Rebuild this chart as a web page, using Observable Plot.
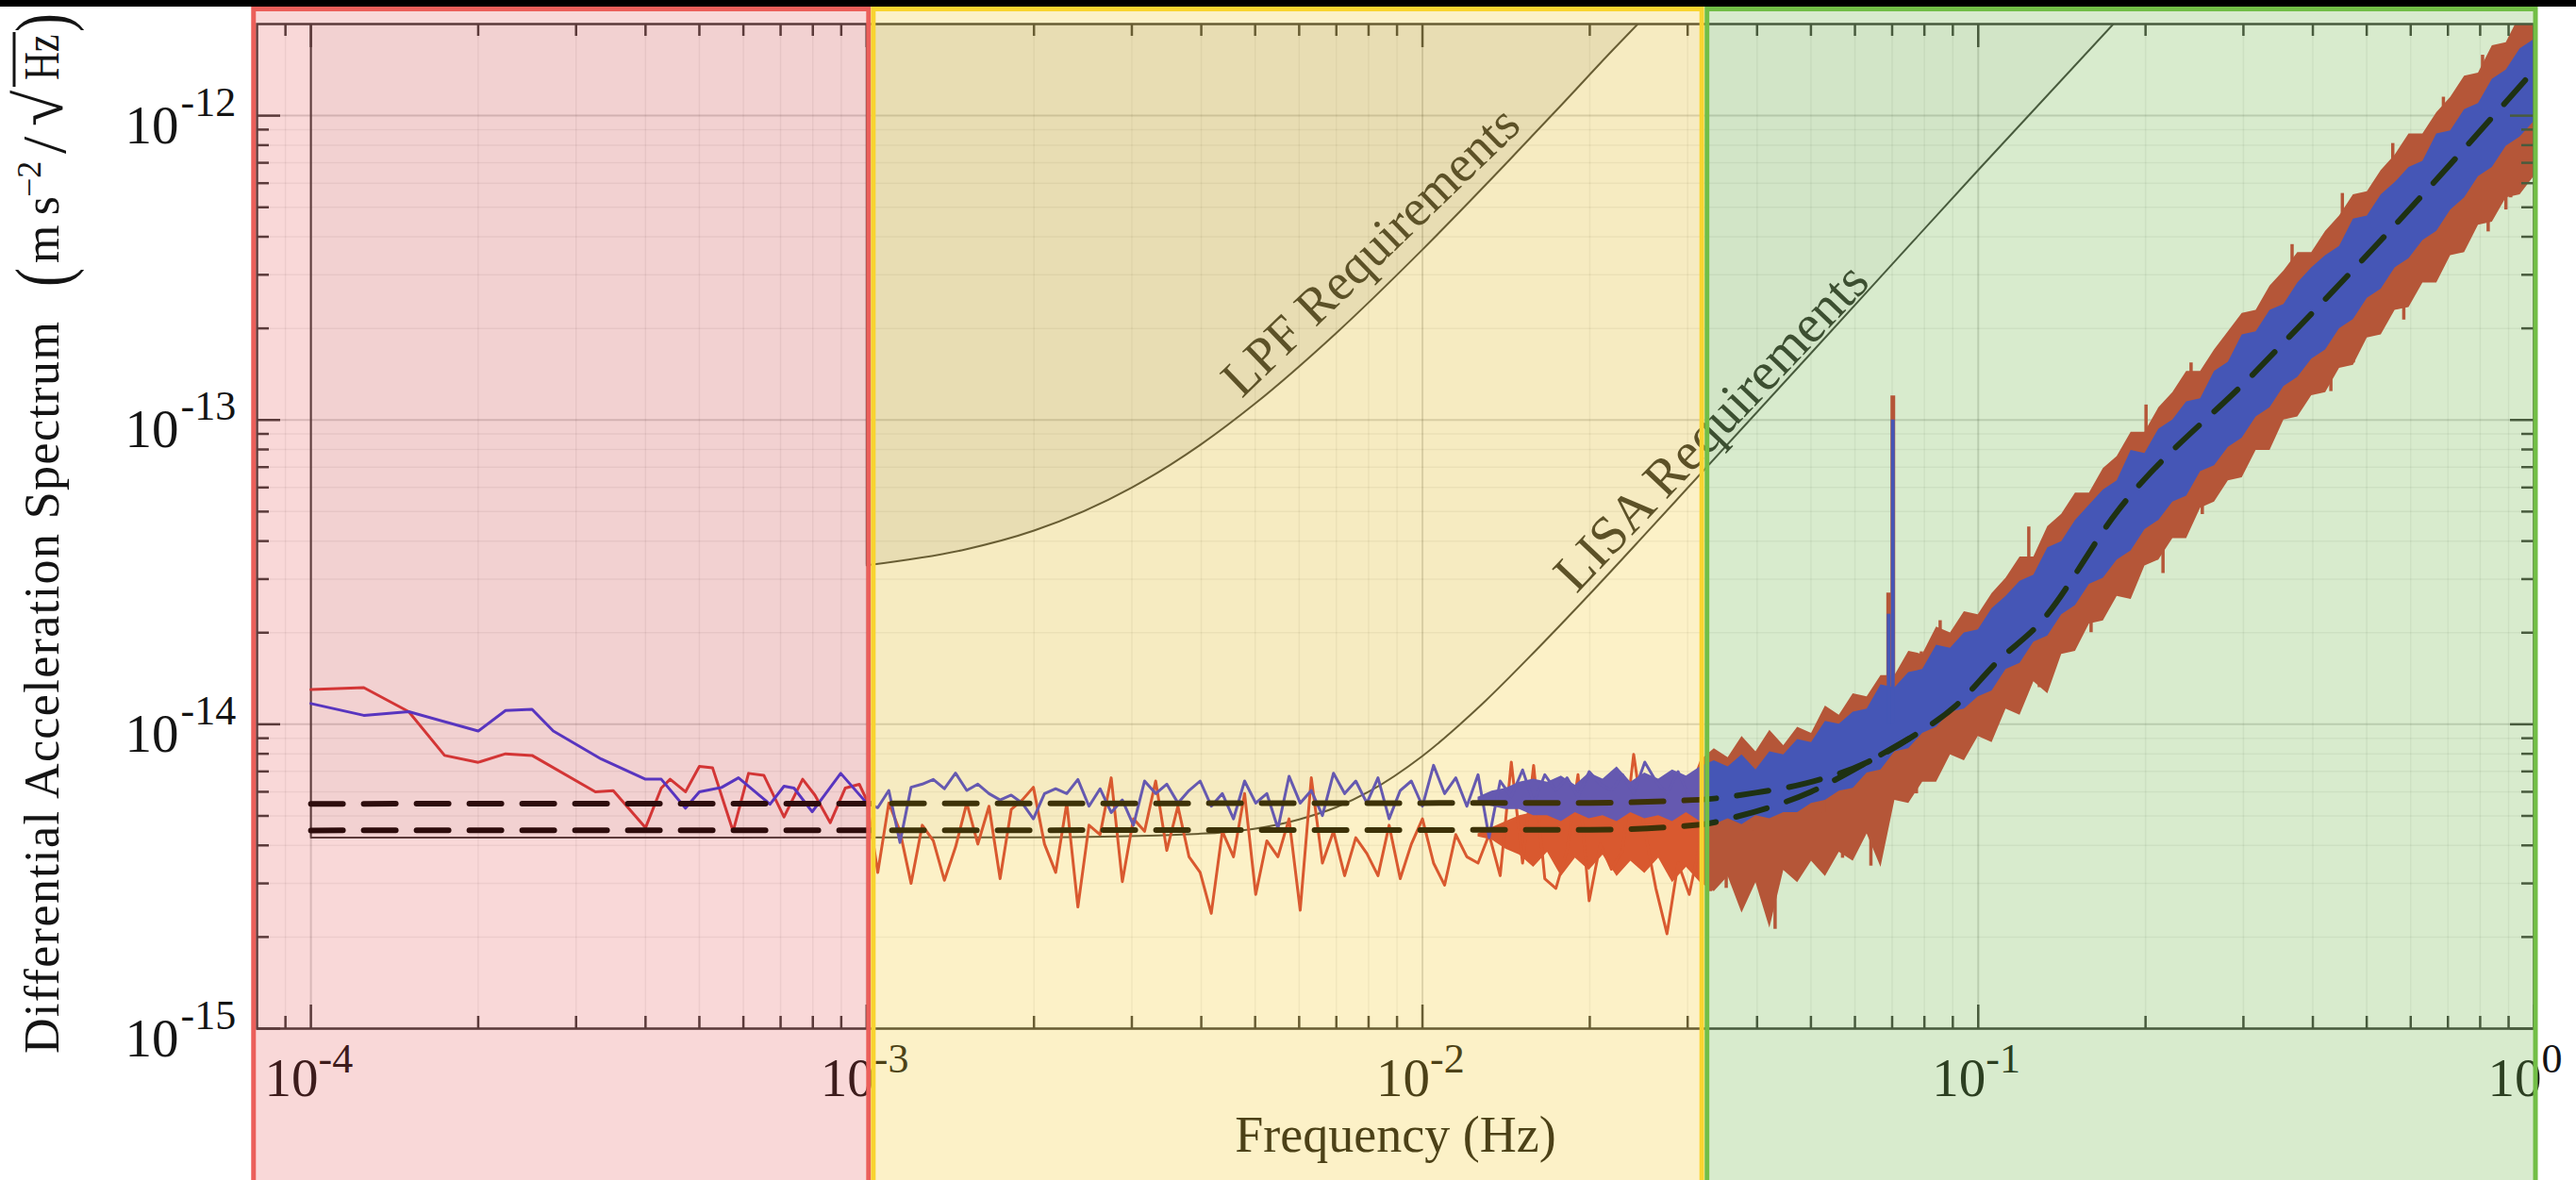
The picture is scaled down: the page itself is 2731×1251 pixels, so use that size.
<!DOCTYPE html>
<html><head><meta charset="utf-8">
<script src="https://cdn.jsdelivr.net/npm/d3@7"></script>
<script src="https://cdn.jsdelivr.net/npm/@observablehq/plot@0.6"></script>
<style>
html,body{margin:0;padding:0;background:#fff;}
#wrap{position:relative;width:2731px;height:1251px;overflow:hidden;}
#topbar{position:absolute;left:0;top:0;width:2731px;height:7px;background:#000;z-index:5;}
#wrap svg{display:block;}
</style></head>
<body><div id="wrap"><div id="topbar"></div></div>
<script>
// ---------- axes ----------
const xDomain = [8e-5, 1];
const yDomain = [1e-15, 2e-12];
const xMajor = [1e-4, 1e-3, 1e-2, 1e-1, 1];
const xMajorExp = ["-4", "-3", "-2", "-1", "0"];
const yMajor = [1e-15, 1e-14, 1e-13, 1e-12];
const yMajorExp = ["-15", "-14", "-13", "-12"];

// ---------- requirement curves ----------
const lpfF = [1e-3, 1.5e-3, 2e-3, 3e-3, 4e-3, 5e-3, 7e-3, 1e-2, 1.4e-2, 1.8e-2, 2.2e-2, 2.44e-2];
const lpfY = [3.33e-14, 3.75e-14, 4.33e-14, 6.0e-14, 8.33e-14, 1.133e-13, 1.933e-13, 3.63e-13, 6.83e-13, 1.11e-12, 1.643e-12, 2.0e-12];
const lisaF = [1e-4, 2e-3, 4e-3, 6e-3, 7e-3, 8e-3, 1e-2, 1.3e-2, 1.6e-2, 2e-2, 2.5e-2, 3e-2, 5e-2, 7e-2, 1e-1, 1.75e-1];
const lisaY = [4.24e-15, 4.25e-15, 4.37e-15, 4.87e-15, 5.34e-15, 6.0e-15, 7.87e-15, 1.197e-14, 1.75e-14, 2.68e-14, 4.16e-14, 5.98e-14, 1.657e-13, 3.25e-13, 6.63e-13, 2.0e-12];

// ---------- noise models (dashed) ----------
const modelUpF = [1e-4, 0.02, 0.0282, 0.0331, 0.0398, 0.049, 0.0631, 0.0759, 0.0912, 0.1084, 0.1288, 0.178, 0.316, 0.562, 1.0];
const modelUpY = [5.48e-15, 5.52e-15, 5.60e-15, 5.69e-15, 5.96e-15, 6.40e-15, 7.50e-15, 9.08e-15, 1.153e-14, 1.61e-14, 2.14e-14, 5.01e-14, 1.445e-13, 4.37e-13, 1.41e-12];
const modelLoF = [1e-4, 0.02, 0.0316, 0.0372, 0.05, 0.0631, 0.0759];
const modelLoY = [4.48e-15, 4.5e-15, 4.68e-15, 5.0e-15, 6.0e-15, 7.5e-15, 9.08e-15];

// ---------- measured spectra, low frequencies ----------
const redLowF = [1.0e-4, 1.245e-4, 1.5e-4, 1.74e-4, 2.0e-4, 2.24e-4, 2.5e-4, 3.25e-4, 3.5e-4, 4.0e-4, 4.27e-4, 4.43e-4, 4.72e-4, 5.0e-4, 5.28e-4, 5.75e-4, 6.13e-4, 6.53e-4, 7.1e-4, 7.67e-4, 8.07e-4, 8.6e-4, 9.15e-4, 9.7e-4];
const redLowY = [1.30e-14, 1.32e-14, 1.10e-14, 7.9e-15, 7.5e-15, 8.0e-15, 7.9e-15, 6.0e-15, 6.05e-15, 4.57e-15, 6.17e-15, 6.6e-15, 6.0e-15, 7.27e-15, 7.2e-15, 4.45e-15, 6.9e-15, 6.8e-15, 4.96e-15, 6.6e-15, 5.85e-15, 4.75e-15, 6.17e-15, 6.35e-15];
const blueLowF = [1.0e-4, 1.245e-4, 1.5e-4, 2.0e-4, 2.24e-4, 2.5e-4, 2.73e-4, 3.33e-4, 4.0e-4, 4.27e-4, 4.72e-4, 5.0e-4, 5.48e-4, 5.88e-4, 6.7e-4, 7.1e-4, 7.4e-4, 7.98e-4, 8.98e-4];
const blueLowY = [1.17e-14, 1.07e-14, 1.10e-14, 9.5e-15, 1.11e-14, 1.12e-14, 9.5e-15, 7.69e-15, 6.6e-15, 6.6e-15, 5.3e-15, 6.0e-15, 6.2e-15, 6.67e-15, 5.46e-15, 6.26e-15, 6.17e-15, 5.16e-15, 6.9e-15];

// ---------- measured spectra, 1 mHz - 30 mHz ----------
const midF = [1.000e-3, 1.047e-3, 1.096e-3, 1.148e-3, 1.202e-3, 1.259e-3, 1.318e-3, 1.380e-3, 1.445e-3, 1.514e-3,
  1.585e-3, 1.660e-3, 1.738e-3, 1.820e-3, 1.905e-3, 1.995e-3, 2.089e-3, 2.188e-3, 2.291e-3, 2.399e-3,
  2.512e-3, 2.630e-3, 2.754e-3, 2.884e-3, 3.020e-3, 3.162e-3, 3.311e-3, 3.467e-3, 3.631e-3, 3.802e-3,
  3.981e-3, 4.169e-3, 4.365e-3, 4.571e-3, 4.786e-3, 5.012e-3, 5.248e-3, 5.495e-3, 5.754e-3, 6.026e-3,
  6.310e-3, 6.607e-3, 6.918e-3, 7.244e-3, 7.586e-3, 7.943e-3, 8.318e-3, 8.710e-3, 9.120e-3, 9.550e-3,
  1.000e-2, 1.047e-2, 1.096e-2, 1.148e-2, 1.202e-2, 1.259e-2, 1.318e-2, 1.380e-2, 1.445e-2, 1.514e-2,
  1.585e-2, 1.660e-2, 1.738e-2, 1.820e-2, 1.905e-2, 1.995e-2, 2.089e-2, 2.188e-2, 2.291e-2, 2.399e-2,
  2.512e-2, 2.630e-2, 2.754e-2, 2.884e-2, 3.020e-2, 3.162e-2];
const blueMidY = [5.51e-15, 5.32e-15, 6.06e-15, 4.09e-15, 6.21e-15, 6.36e-15, 6.59e-15, 6.14e-15, 6.91e-15, 6.06e-15,
  6.36e-15, 5.92e-15, 5.64e-15, 5.85e-15, 5.51e-15, 4.89e-15, 5.92e-15, 6.14e-15, 5.92e-15, 6.59e-15,
  5.38e-15, 6.14e-15, 5.13e-15, 5.64e-15, 4.66e-15, 6.51e-15, 5.92e-15, 6.36e-15, 5.51e-15, 6.06e-15,
  6.51e-15, 5.38e-15, 5.92e-15, 4.89e-15, 6.51e-15, 5.51e-15, 5.92e-15, 4.55e-15, 6.75e-15, 5.51e-15,
  6.06e-15, 5.01e-15, 6.91e-15, 5.92e-15, 6.51e-15, 5.51e-15, 6.67e-15, 4.89e-15, 6.06e-15, 6.51e-15,
  5.38e-15, 7.33e-15, 5.92e-15, 6.67e-15, 5.38e-15, 6.83e-15, 4.24e-15, 6.51e-15, 5.78e-15, 7.08e-15,
  5.51e-15, 6.83e-15, 6.06e-15, 6.67e-15, 5.78e-15, 6.99e-15, 6.36e-15, 6.06e-15, 6.83e-15, 5.92e-15,
  7.51e-15, 6.51e-15, 5.92e-15, 6.99e-15, 5.78e-15, 6.21e-15];
const redMidY = [5.64e-15, 3.26e-15, 5.51e-15, 4.45e-15, 3.00e-15, 4.66e-15, 4.14e-15, 3.07e-15, 3.95e-15, 5.51e-15,
  4.04e-15, 5.38e-15, 3.11e-15, 5.25e-15, 5.64e-15, 6.21e-15, 4.04e-15, 3.26e-15, 5.51e-15, 2.51e-15,
  4.66e-15, 4.34e-15, 6.67e-15, 3.04e-15, 4.89e-15, 4.45e-15, 6.51e-15, 3.85e-15, 5.38e-15, 3.67e-15,
  3.26e-15, 2.39e-15, 4.45e-15, 3.67e-15, 5.92e-15, 2.76e-15, 4.14e-15, 3.67e-15, 4.89e-15, 2.45e-15,
  6.67e-15, 3.50e-15, 4.45e-15, 3.18e-15, 4.24e-15, 3.76e-15, 3.18e-15, 4.66e-15, 3.11e-15, 4.04e-15,
  4.89e-15, 3.50e-15, 2.96e-15, 4.34e-15, 3.67e-15, 3.50e-15, 4.34e-15, 3.18e-15, 7.51e-15, 3.50e-15,
  7.33e-15, 3.11e-15, 2.89e-15, 3.85e-15, 6.83e-15, 2.63e-15, 4.04e-15, 3.34e-15, 3.85e-15, 7.97e-15,
  4.45e-15, 2.89e-15, 2.05e-15, 3.50e-15, 2.76e-15, 4.14e-15];

// ---------- measured spectra envelopes, 12 mHz - 1 Hz (log10 of value) ----------
const bandF = [0.01259,0.01334,0.01413,0.01496,0.01585,0.01679,0.01778,0.01884,0.01995,0.02113,
  0.02239,0.02371,0.02512,0.02661,0.02818,0.02985,0.03162,0.03350,0.03548,0.03758,
  0.03981,0.04217,0.04467,0.04732,0.05012,0.05309,0.05623,0.05957,0.06310,0.06683,
  0.07079,0.07499,0.07943,0.08414,0.08913,0.09441,0.1000,0.1059,0.1122,0.1189,
  0.1259,0.1334,0.1413,0.1496,0.1585,0.1679,0.1778,0.1884,0.1995,0.2113,
  0.2239,0.2371,0.2512,0.2661,0.2818,0.2985,0.3162,0.3350,0.3548,0.3758,
  0.3981,0.4217,0.4467,0.4732,0.5012,0.5309,0.5623,0.5957,0.6310,0.6683,
  0.7079,0.7499,0.7943,0.8414,0.8913,0.9441,1.0];
const blueHiLog = [-14.24,-14.22,-14.21,-14.19,-14.18,-14.19,-14.17,-14.20,-14.16,-14.18,-14.14,-14.19,-14.16,-14.18,-14.15,-14.17,-14.14,
  -14.12,-14.14,-14.10,-14.15,-14.09,-14.10,-14.05,-14.06,-13.99,-14.00,-13.96,-13.95,-13.87,-13.88,-13.83,-13.82,-13.74,-13.75,-13.70,-13.69,
  -13.62,-13.58,-13.53,-13.51,-13.42,-13.40,-13.33,-13.28,-13.23,-13.20,-13.10,-13.11,-13.03,-13.00,-12.94,-12.93,-12.84,-12.81,-12.72,-12.71,
  -12.64,-12.62,-12.55,-12.50,-12.46,-12.43,-12.34,-12.33,-12.26,-12.22,-12.17,-12.15,-12.06,-12.05,-11.98,-11.96,-11.88,-11.85,-11.78,-11.75];
const blueLoLog = [-14.26,-14.27,-14.28,-14.28,-14.30,-14.30,-14.32,-14.29,-14.31,-14.30,-14.32,-14.29,-14.31,-14.30,-14.32,-14.29,-14.32,
  -14.33,-14.31,-14.33,-14.30,-14.31,-14.29,-14.29,-14.26,-14.25,-14.22,-14.21,-14.16,-14.15,-14.09,-14.08,-14.03,-14.01,-13.96,-13.95,-13.91,
  -13.89,-13.82,-13.80,-13.73,-13.71,-13.64,-13.61,-13.54,-13.52,-13.46,-13.43,-13.36,-13.33,-13.27,-13.25,-13.17,-13.15,-13.09,-13.06,-12.99,
  -12.96,-12.89,-12.86,-12.80,-12.77,-12.70,-12.67,-12.60,-12.57,-12.50,-12.47,-12.41,-12.38,-12.31,-12.27,-12.20,-12.17,-12.10,-12.07,-12.02];
const redHiLog = [-14.36,-14.34,-14.32,-14.30,-14.29,-14.28,-14.26,-14.29,-14.27,-14.30,-14.26,-14.28,-14.25,-14.29,-14.26,-14.24,-14.12,
  -14.08,-14.11,-14.04,-14.09,-14.02,-14.07,-14.01,-14.03,-13.94,-13.97,-13.90,-13.91,-13.84,-13.84,-13.76,-13.77,-13.68,-13.70,-13.63,-13.64,
  -13.57,-13.52,-13.45,-13.45,-13.35,-13.31,-13.24,-13.24,-13.16,-13.12,-13.04,-13.04,-12.96,-12.91,-12.84,-12.84,-12.77,-12.71,-12.65,-12.64,
  -12.56,-12.51,-12.45,-12.45,-12.38,-12.33,-12.26,-12.25,-12.18,-12.13,-12.06,-12.06,-11.99,-11.94,-11.87,-11.86,-11.77,-11.76,-11.67,-11.67];
const redLoLog = [-14.37,-14.38,-14.41,-14.43,-14.47,-14.42,-14.50,-14.44,-14.48,-14.43,-14.50,-14.45,-14.49,-14.44,-14.52,-14.47,-14.52,
  -14.55,-14.50,-14.62,-14.52,-14.67,-14.48,-14.52,-14.45,-14.50,-14.42,-14.45,-14.36,-14.47,-14.25,-14.26,-14.19,-14.19,-14.10,-14.12,-14.04,
  -14.06,-13.95,-13.97,-13.86,-13.90,-13.77,-13.76,-13.67,-13.66,-13.58,-13.59,-13.48,-13.46,-13.39,-13.39,-13.29,-13.27,-13.20,-13.19,-13.10,
  -13.10,-13.00,-12.99,-12.92,-12.91,-12.83,-12.82,-12.73,-12.72,-12.64,-12.63,-12.55,-12.55,-12.46,-12.45,-12.36,-12.35,-12.27,-12.26,-12.20];

// ---------- individual excursions of the red spectrum above 30 mHz ----------
const redDipF = [0.0330, 0.0352, 0.0366, 0.0396, 0.0412, 0.0431, 0.0445, 0.0460, 0.0488, 0.0527,
  0.0548, 0.0570, 0.0593, 0.0641, 0.0667, 0.0703, 0.0740, 0.0774, 0.0821, 0.0854,
  0.0900, 0.0948, 0.1094, 0.1214, 0.1288, 0.1365, 0.1476, 0.1596, 0.215, 0.253,
  0.319, 0.367, 0.431, 0.473, 0.528, 0.583, 0.628, 0.655, 0.74, 0.827, 0.89, 0.908];
const redDipY = [2.82e-15, 2.89e-15, 3.18e-15, 3.76e-15, 3.26e-15, 2.12e-15, 3.50e-15, 3.33e-15, 3.94e-15, 3.33e-15,
  4.13e-15, 3.63e-15, 4.34e-15, 3.42e-15, 5.51e-15, 6.05e-15, 6.50e-15, 5.91e-15, 6.98e-15, 7.33e-15,
  8.26e-15, 9.08e-15, 1.05e-14, 1.27e-14, 1.32e-14, 1.75e-14, 2.0e-14, 2.0e-14, 3.13e-14, 4.89e-14,
  8.4e-14, 1.12e-13, 1.24e-13, 1.54e-13, 2.06e-13, 2.13e-13, 3.13e-13, 3.2e-13, 3.55e-13, 4.15e-13, 4.9e-13, 5.37e-13];
const redPeakF = [0.0364, 0.0391, 0.0454, 0.0497, 0.0527, 0.0597, 0.0641, 0.0685, 0.0730, 0.0790, 0.0854, 0.1233, 0.2004, 0.2415, 0.367, 0.452, 0.557, 0.687, 0.808];
const redPeakY = [7.78e-15, 8.05e-15, 8.26e-15, 8.87e-15, 9.19e-15, 1.15e-14, 1.21e-14, 1.33e-14, 1.52e-14, 1.73e-14, 2.19e-14, 4.45e-14, 1.12e-13, 1.54e-13, 3.77e-13, 5.55e-13, 8.1e-13, 1.15e-12, 1.58e-12];

// ---------- line at ~70 mHz ----------
const spikeF = [0.0690, 0.0702];
const spikeBase = [1.0e-14, 1.0e-14];
const spikeRedTop = [2.7e-14, 1.2e-13];
const spikeBlueTop = [2.3e-14, 1.0e-13];

// ---------- frequency regimes ----------
const regimes = [
  {from: 7.9e-5, to: 1e-3},
  {from: 1e-3, to: 0.032},
  {from: 0.032, to: 1.0}
];

// ---------- derived tables ----------
const redF = redLowF.concat(midF), redY = redLowY.concat(redMidY);
const blueF = blueLowF.concat(midF), blueY = blueLowY.concat(blueMidY);
const idx = n => d3.range(n);
const xMinor = [];
for (const d of [1e-5, 1e-4, 1e-3, 1e-2, 1e-1]) for (let m = 2; m <= 9; m++) { const v = m * d; if (v > xDomain[0] * 1.001 && v < xDomain[1]) xMinor.push(v); }
const yMinor = [];
for (const d of [1e-15, 1e-14, 1e-13, 1e-12]) for (let m = 2; m <= 9; m++) { const v = m * d; if (v < yDomain[1] * 0.999) yMinor.push(v); }

const RED = "#d03434", BLUE = "#3634e0", INK = "#3a3a3a", TXT = "#141414";
const FONT = "'Liberation Serif', 'Times New Roman', serif";
const FW = 2414, FH = 1065;
const yTop = () => yDomain[1];
const yBottom = () => yDomain[0];

const chart = Plot.plot({
  width: 2731, height: 1251,
  marginLeft: 272, marginRight: 45, marginTop: 25, marginBottom: 161,
  style: {fontFamily: FONT, background: "transparent", overflow: "visible"},
  x: {type: "log", domain: xDomain, axis: null},
  y: {type: "log", domain: yDomain, axis: null},
  marks: [
    // grid
    Plot.ruleX(xMinor, {stroke: "#000", strokeOpacity: 0.06, strokeWidth: 1.5}),
    Plot.ruleY(yMinor, {stroke: "#000", strokeOpacity: 0.06, strokeWidth: 1.5}),
    Plot.ruleX(xMajor, {stroke: "#000", strokeOpacity: 0.16, strokeWidth: 2}),
    Plot.ruleY(yMajor, {stroke: "#000", strokeOpacity: 0.16, strokeWidth: 2}),
    // requirement shading
    Plot.areaY(idx(lisaF.length), {x: i => lisaF[i], y1: i => lisaY[i], y2: yTop, fill: "#000", fillOpacity: 0.03, curve: "monotone-x", clip: true}),
    Plot.areaY(idx(lpfF.length), {x: i => lpfF[i], y1: i => lpfY[i], y2: yTop, fill: "#000", fillOpacity: 0.07, curve: "monotone-x", clip: true}),
    // requirement curves
    Plot.ruleX([lisaF[0]], {y1: () => lisaY[0], y2: yTop, stroke: INK, strokeWidth: 2}),
    Plot.ruleX([lpfF[0]], {y1: () => lpfY[0], y2: yTop, stroke: INK, strokeWidth: 2}),
    Plot.line(idx(lisaF.length), {x: i => lisaF[i], y: i => lisaY[i], stroke: INK, strokeWidth: 2, curve: "monotone-x", clip: true}),
    Plot.line(idx(lpfF.length), {x: i => lpfF[i], y: i => lpfY[i], stroke: INK, strokeWidth: 2, curve: "monotone-x", clip: true}),
    // measured spectra
    Plot.areaY(idx(bandF.length), {x: i => bandF[i], y1: i => 10 ** redLoLog[i], y2: i => 10 ** redHiLog[i], fill: RED, clip: true}),
    Plot.ruleX(idx(redDipF.length), {x: i => redDipF[i], y1: i => redDipY[i], y2: i => redDipY[i] * 1.8, stroke: RED, strokeWidth: 3.5, clip: true}),
    Plot.ruleX(idx(redPeakF.length), {x: i => redPeakF[i], y1: i => redPeakY[i] / 1.8, y2: i => redPeakY[i], stroke: RED, strokeWidth: 3.5, clip: true}),
    Plot.line(idx(redF.length), {x: i => redF[i], y: i => redY[i], stroke: RED, strokeWidth: 3, clip: true}),
    Plot.ruleX(idx(spikeF.length), {x: i => spikeF[i], y1: i => spikeBase[i], y2: i => spikeRedTop[i], stroke: RED, strokeWidth: 5}),
    Plot.areaY(idx(bandF.length), {x: i => bandF[i], y1: i => 10 ** blueLoLog[i], y2: i => 10 ** blueHiLog[i], fill: BLUE, clip: true}),
    Plot.line(idx(blueF.length), {x: i => blueF[i], y: i => blueY[i], stroke: BLUE, strokeWidth: 3, clip: true}),
    Plot.ruleX(idx(spikeF.length), {x: i => spikeF[i], y1: i => spikeBase[i], y2: i => spikeBlueTop[i], stroke: BLUE, strokeWidth: 4}),
    // noise models
    Plot.line(idx(modelLoF.length), {x: i => modelLoF[i], y: i => modelLoY[i], stroke: "#000", strokeWidth: 6, strokeDasharray: "34,22", curve: "monotone-x"}),
    Plot.line(idx(modelUpF.length), {x: i => modelUpF[i], y: i => modelUpY[i], stroke: "#000", strokeWidth: 6, strokeDasharray: "34,22", curve: "monotone-x", clip: true}),
    // frame and inward ticks
    Plot.ruleX(xMinor, {insetTop: FH - 13, stroke: INK, strokeWidth: 2.5}),
    Plot.ruleX(xMinor, {insetBottom: FH - 13, stroke: INK, strokeWidth: 2.5}),
    Plot.ruleX(xMajor, {insetTop: FH - 25, stroke: INK, strokeWidth: 2.5}),
    Plot.ruleX(xMajor, {insetBottom: FH - 25, stroke: INK, strokeWidth: 2.5}),
    Plot.ruleY(yMinor, {insetRight: FW - 13, stroke: INK, strokeWidth: 2.5}),
    Plot.ruleY(yMinor, {insetLeft: FW - 13, stroke: INK, strokeWidth: 2.5}),
    Plot.ruleY(yMajor, {insetRight: FW - 25, stroke: INK, strokeWidth: 2.5}),
    Plot.ruleY(yMajor, {insetLeft: FW - 25, stroke: INK, strokeWidth: 2.5}),
    Plot.frame({stroke: INK, strokeWidth: 2.5}),
    // tick labels
    Plot.text(xMajor, {x: d => d, text: () => "10", frameAnchor: "bottom", textAnchor: "end", dx: 8, dy: 71, fontSize: 57, fill: TXT}),
    Plot.text(xMajor, {x: d => d, text: (d, i) => xMajorExp[i], frameAnchor: "bottom", textAnchor: "start", dx: 8, dy: 46, fontSize: 44, fill: TXT}),
    Plot.text(yMajor, {y: d => d, text: () => "10", frameAnchor: "left", textAnchor: "end", dx: -83, dy: 11, fontSize: 57, fill: TXT}),
    Plot.text(yMajor, {y: d => d, text: (d, i) => yMajorExp[i], frameAnchor: "left", textAnchor: "start", dx: -81, dy: -14, fontSize: 44, fill: TXT}),
    Plot.text(["Frequency (Hz)"], {text: d => d, frameAnchor: "bottom", dy: 130, fontSize: 54, fill: TXT}),
    // requirement labels
    Plot.text(["LPF Requirements"], {text: d => d, x: () => 8.07e-3, y: () => 3.58e-13, rotate: -44, fontSize: 55, fill: "#2a2a2a"}),
    Plot.text(["LISA Requirements"], {text: d => d, x: () => 0.0331, y: () => 9.46e-14, rotate: -46.5, fontSize: 57, fill: "#2a2a2a"}),
    // frequency-regime overlays
    Plot.rect([regimes[0]], {x1: "from", x2: "to", y1: yBottom, y2: yTop, fill: "#e03c3c", fillOpacity: 0.2, stroke: "#eb5f5a", strokeWidth: 5, insetTop: -15.5, insetBottom: -200, insetRight: -2.5}),
    Plot.rect([regimes[1]], {x1: "from", x2: "to", y1: yBottom, y2: yTop, fill: "#f5c81e", fillOpacity: 0.25, stroke: "#f8d430", strokeWidth: 5, insetTop: -15.5, insetBottom: -200, insetLeft: 7.5, insetRight: 1}),
    Plot.rect([regimes[2]], {x1: "from", x2: "to", y1: yBottom, y2: yTop, fill: "#6eb446", fillOpacity: 0.27, stroke: "#72be46", strokeWidth: 5, insetTop: -15.5, insetBottom: -200, insetLeft: 4.5, insetRight: -2})
  ]
});

// y-axis title: "Differential Acceleration Spectrum (m s^-2 / sqrt(Hz))"
const svg = d3.select(chart);
const yl = svg.append("g").attr("fill", TXT).attr("text-anchor", "start").style("font-family", FONT);
function vtext(x, y, size, str, sx = 1, spacing = 0) {
  return yl.append("text")
    .attr("transform", `translate(${x},${y}) rotate(-90) scale(${sx},1)`)
    .attr("text-anchor", "start")
    .attr("font-size", size)
    .style("letter-spacing", spacing + "px")
    .text(str);
}
vtext(62, 1117, 52, "Differential Acceleration Spectrum", 1, 1.4);
vtext(72, 304, 80, "(", 0.75);
vtext(62, 279, 52, "m\u2009s");
vtext(43, 209, 36, "\u22122");
vtext(69, 163, 66, "/");
vtext(66, 134, 70, "\u221A");
vtext(62, 85, 52, "Hz", 0.8);
yl.append("line").attr("x1", 15).attr("x2", 15).attr("y1", 92).attr("y2", 34).attr("stroke", TXT).attr("stroke-width", 3);
vtext(72, 34, 80, ")", 0.75);

document.getElementById("wrap").appendChild(chart);
</script>
</body></html>
